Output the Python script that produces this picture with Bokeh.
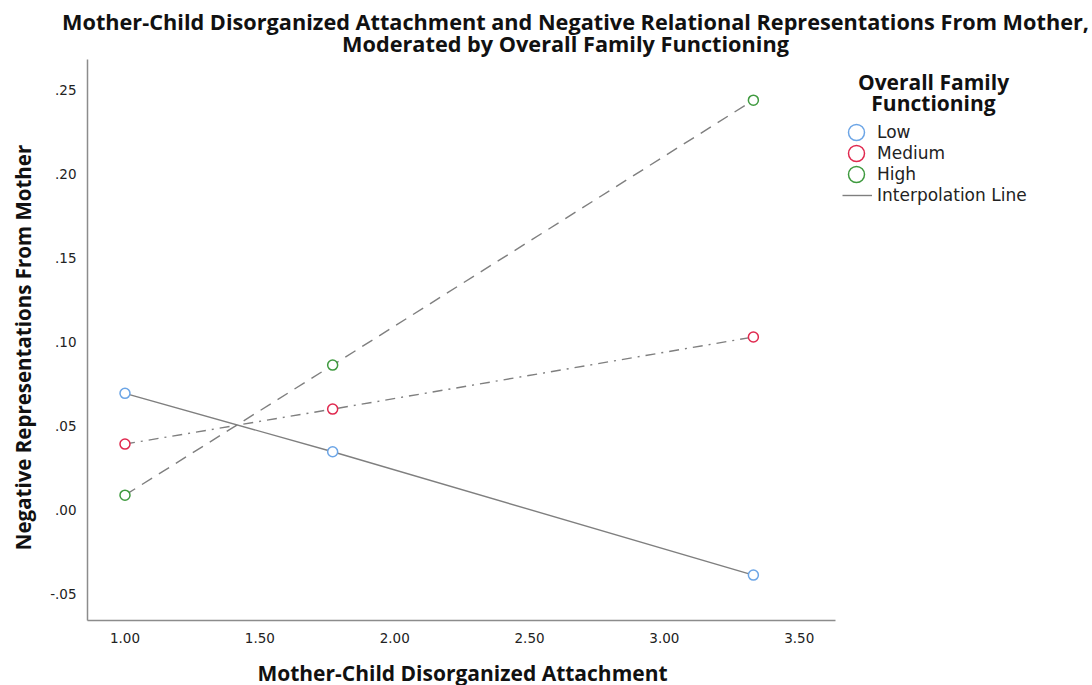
import math
from bokeh.plotting import figure
from bokeh.models import Label, Legend, LegendItem, FixedTicker, Range1d
from bokeh.embed import file_html
from bokeh.resources import INLINE

# ---- data ----
attachment = [1.00, 1.77, 3.33]
low = [0.0695, 0.0347, -0.0387]
medium = [0.0393, 0.0601, 0.1030]
high = [0.0089, 0.0863, 0.2440]
group_names = ["Low", "Medium", "High"]
group_colors = ["#6ca5e6", "#e0294f", "#3f9a3f"]
group_dashes = ["solid", "10 6 2 6", "12 8"]
x_ticks = [1.0, 1.5, 2.0, 2.5, 3.0, 3.5]
x_tick_labels = ["1.00", "1.50", "2.00", "2.50", "3.00", "3.50"]
y_ticks = [-0.05, 0.0, 0.05, 0.10, 0.15, 0.20, 0.25]
y_tick_labels = ["-.05", ".00", ".05", ".10", ".15", ".20", ".25"]
x_axis_span = (0.861, 3.635)
y_axis_span = (-0.0657, 0.2679)
title_lines = ["Mother-Child Disorganized Attachment and Negative Relational Representations From Mother,",
               "Moderated by Overall Family Functioning"]
legend_title_lines = ["Overall Family", "Functioning"]
line_legend_label = "Interpolation Line"
x_label = "Mother-Child Disorganized Attachment"
y_label = "Negative Representations From Mother"

FONT = "DejaVu Sans"
TFONT = "Open Sans"
GRAY = "#7f7f7f"
W, H = 1092, 685

# The frame fills the whole canvas; the axes sit at fixed data locations and
# their lines are limited with bounds, so every text can live inside the frame.
p = figure(width=W, height=H, output_backend="svg", toolbar_location=None,
           x_range=Range1d(0.5384, 4.5874), y_range=Range1d(-0.1044, 0.3033),
           min_border=0)
p.outline_line_color = None
p.grid.visible = False
p.background_fill_color = "white"

p.xaxis[0].fixed_location = y_axis_span[0]
p.yaxis[0].fixed_location = x_axis_span[0]

for ax, ticks, labels, span in ((p.xaxis[0], x_ticks, x_tick_labels, x_axis_span),
                                (p.yaxis[0], y_ticks, y_tick_labels, y_axis_span)):
    ax.ticker = FixedTicker(ticks=ticks)
    ax.bounds = span
    ax.major_label_overrides = {t: l for t, l in zip(ticks, labels)}
    ax.axis_line_color = "#8c8c8c"
    ax.axis_line_width = 1.5
    ax.major_tick_line_color = None
    ax.minor_tick_line_color = None
    ax.major_label_text_font = FONT
    ax.major_label_text_font_size = "13.5px"
    ax.major_label_text_color = "#222222"
p.xaxis.major_label_standoff = 7
p.yaxis.major_label_standoff = 5

series = [low, medium, high]
for name, vals, color, dash in zip(group_names, series, group_colors, group_dashes):
    p.line(attachment, vals, line_color=GRAY, line_width=1.4, line_dash=dash)


def one_item_legend(item, px_left, py_center, gw, gh, standoff):
    # a single-row legend placed by its left edge and row centre (canvas pixels)
    lg = Legend(items=[item], location=(px_left, H - (py_center + gh / 2)),
                glyph_width=gw, glyph_height=gh, label_height=gh, padding=0, margin=0,
                border_line_color=None, background_fill_alpha=0, label_text_font=FONT,
                label_text_font_size="17px", label_standoff=standoff,
                label_text_color="#222222")
    p.add_layout(lg)


row_centers = [132, 153, 174, 195]
for i, (name, vals, color) in enumerate(zip(group_names, series, group_colors)):
    p.scatter(attachment, vals, marker="circle", size=10, line_color=color,
              fill_color="white", line_width=1.5)
    # legend-only glyph, its single point lies outside the view
    dummy = p.scatter(x=[-100], y=[-100], marker="circle", size=16, line_color=color,
                      fill_color=None, line_width=1.5)
    one_item_legend(LegendItem(label=name, renderers=[dummy]), 836, row_centers[i], 40, 40, 1)
dline = p.line(x=[-100, -99], y=[-100, -99], line_color=GRAY, line_width=1.4)
one_item_legend(LegendItem(label=line_legend_label, renderers=[dline]), 842, row_centers[3], 30, 20, 5)


# texts, positioned in canvas pixels (px from left, py from top)
def add_text(px, py, text, size, angle=0.0):
    p.add_layout(Label(x=px, y=H - py, x_units="screen", y_units="screen", text=text,
                       angle=angle, text_align="center", text_baseline="middle",
                       text_font=TFONT, text_font_style="bold", text_font_size=size,
                       text_color="#111111"))

add_text(575, 21, title_lines[0], "21.7px")
add_text(565, 43, title_lines[1], "21.7px")
add_text(933, 81, legend_title_lines[0], "21px")
add_text(933, 102, legend_title_lines[1], "21px")
add_text(462, 672, x_label, "21px")
add_text(22, 347, y_label, "20.5px", angle=math.pi / 2)

open("out.html", "w").write(file_html(p, INLINE))
